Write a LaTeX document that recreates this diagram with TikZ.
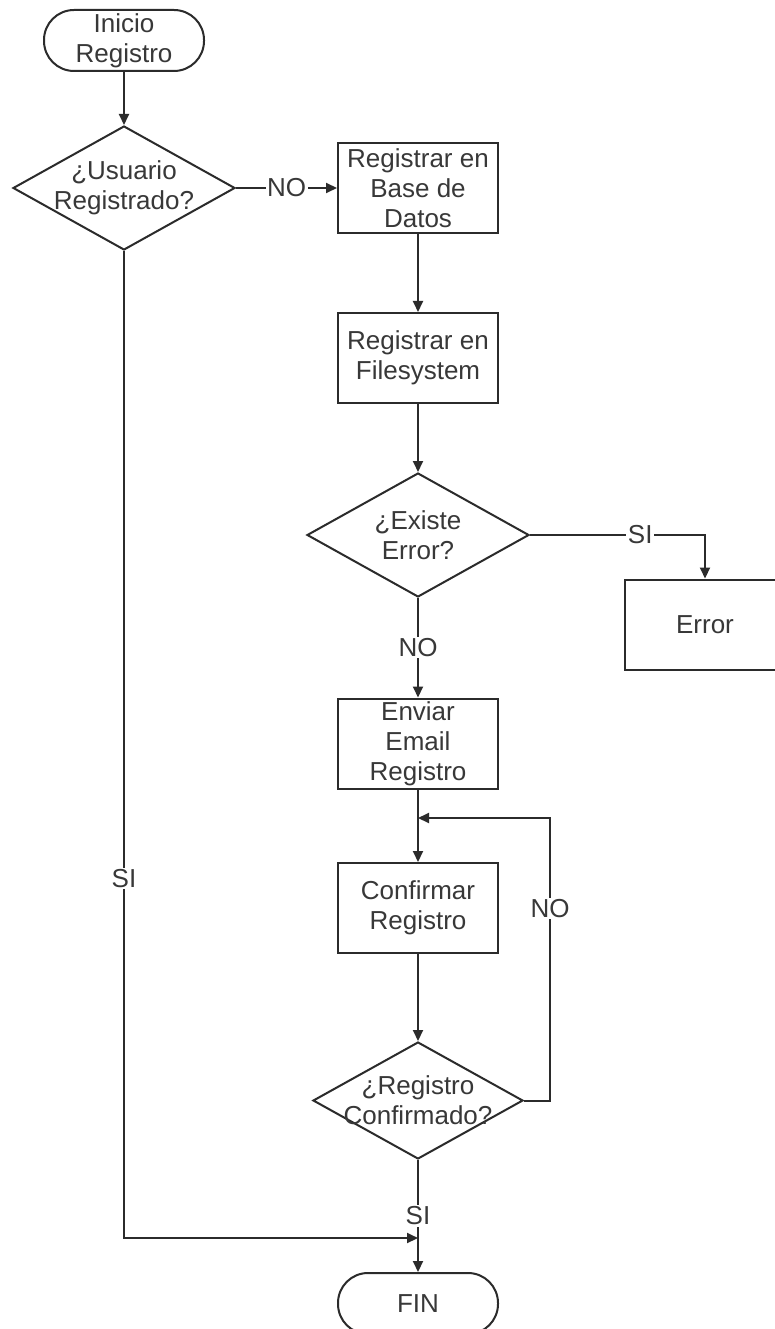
\documentclass[tikz,border=0pt]{standalone}
\usepackage{fontspec}
\setmainfont{Liberation Sans}
\usetikzlibrary{shapes.geometric,arrows.meta}
\definecolor{ink}{HTML}{2B2B2B}
\definecolor{txtc}{HTML}{383838}
\begin{document}
\begin{tikzpicture}[x=1pt,y=-1pt,
  base/.style={draw=ink, line width=2pt, text=txtc, font=\fontsize{26}{30}\selectfont, align=center, inner sep=0pt},
  term/.style={base, rectangle, minimum width=160pt, minimum height=61pt, rounded corners=30pt},
  procbox/.style={base, rectangle, minimum width=160pt, minimum height=90pt},
  decision/.style={base, diamond, minimum width=222pt, minimum height=124pt},
  caption/.style={text=txtc, font=\fontsize{26}{30}\selectfont, align=center, inner sep=0pt},
  tag/.style={fill=white, text=txtc, font=\fontsize{26}{30}\selectfont, inner sep=1.5pt},
  flow/.style={draw=ink, line width=2pt, -{Triangle[length=11pt,width=10pt]}}
]
% page area
\fill[white] (0,0) rectangle (774,1329);
\useasboundingbox (0,0) rectangle (774,1329);

% nodes
\node[term] (start) at (124,40.5) {Inicio\\Registro};
\node[decision] (d1) at (124,188) {};
\node[caption] (d1t) at (d1) {¿Usuario\\Registrado?};
\node[procbox] (b1) at (418,188) {Registrar en\\Base de\\Datos};
\node[procbox] (b2) at (418,358) {Registrar en\\Filesystem};
\node[decision] (d2) at (418,535) {};
\node[caption] (d2t) at (d2) {¿Existe\\Error?};
\node[procbox] (err) at (705,624.5) {Error};
\node[procbox] (b3) at (418,743.5) {Enviar\\Email\\Registro};
\node[procbox] (b4) at (418,908) {Confirmar\\Registro};
\node[decision, minimum width=210pt, minimum height=117pt] (d3) at (418,1100.5) {};
\node[caption] (d3t) at (d3) {¿Registro\\Confirmado?};
\node[term] (fin) at (418,1303.5) {FIN};

% junction points
\coordinate (loopin) at (418,818);
\coordinate (joinin) at (418,1238);

% connectors
\draw[flow] (start) -- (d1);
\draw[flow] (d1.east) -- node[tag] (lno1) {NO} (b1.west);
\draw[flow] (b1) -- (b2);
\draw[flow] (b2) -- (d2);
\draw[flow] (d2.east) -| node[tag,pos=0.315] (lsi1) {SI} (err.north);
\draw[flow] (d2.south) -- node[tag] (lno2) {NO} (b3.north);
\draw[flow] (b3) -- (b4);
\draw[flow] (b4) -- (d3);
\draw[flow] (d3.east) -- ++(26,0) |- node[tag,pos=0.34] (lno3) {NO} (loopin);
\draw[flow] (d3.south) -- node[tag] (lsi2) {SI} (fin.north);
\draw[flow] (d1.south) |- node[tag,pos=0.318] (lsi3) {SI} (joinin);
\end{tikzpicture}
\end{document}
